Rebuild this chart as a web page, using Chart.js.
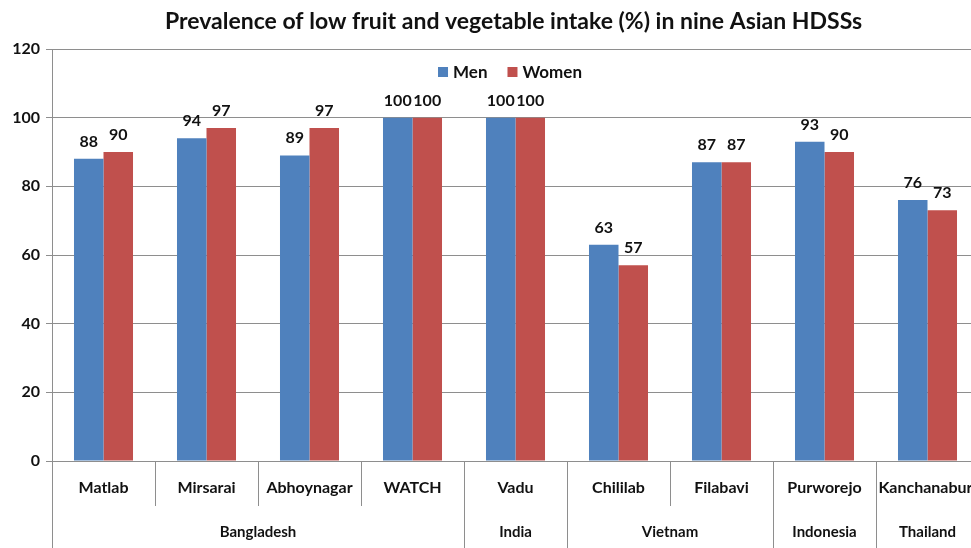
<!DOCTYPE html>
<html>
<head>
<meta charset="utf-8">
<script src="https://cdn.jsdelivr.net/npm/chart.js@4.4.1/dist/chart.umd.min.js"></script>
<style>
  html, body { margin: 0; padding: 0; background: #fff; overflow: hidden; }
  #wrap { width: 971px; height: 548px; overflow: hidden; position: relative; }
  #box { width: 1027px; height: 548px; position: absolute; left: 0; top: 0; }
</style>
</head>
<body>
<div id="wrap"><div id="box"><canvas id="c"></canvas></div></div>
<script>
const categories = ['Matlab', 'Mirsarai', 'Abhoynagar', 'WATCH', 'Vadu', 'Chililab', 'Filabavi', 'Purworejo', 'Kanchanaburi'];
const countries = ['Bangladesh', 'Bangladesh', 'Bangladesh', 'Bangladesh', 'India', 'Vietnam', 'Vietnam', 'Indonesia', 'Thailand'];
const men = [88, 94, 89, 100, 100, 63, 87, 93, 76];
const women = [90, 97, 97, 100, 100, 57, 87, 90, 73];
const yTicks = [0, 20, 40, 60, 80, 100, 120];

const FONT = 'Lato, "Open Sans", sans-serif';
const GRID = '#8e8e8e';

const overlay = {
  id: 'overlay',
  afterDatasetsDraw(chart) {
    const ctx = chart.ctx;
    ctx.save();
    ctx.fillStyle = '#111';
    ctx.font = 'bold 16px ' + FONT;
    ctx.textAlign = 'center';
    ctx.textBaseline = 'alphabetic';
    chart.data.datasets.forEach((ds, di) => {
      const meta = chart.getDatasetMeta(di);
      meta.data.forEach((bar, i) => {
        ctx.fillText(String(ds.data[i]), bar.x, bar.y - 12);
      });
    });
    ctx.restore();
  },
  afterDraw(chart) {
    const ctx = chart.ctx;
    const x = chart.scales.x;
    const area = chart.chartArea;
    const bottomAxis = area.bottom;
    ctx.save();
    ctx.strokeStyle = GRID;
    ctx.lineWidth = 1;
    const n = categories.length;
    const half = (x.getPixelForValue(1) - x.getPixelForValue(0)) / 2;
    const bounds = [];
    for (let i = 0; i <= n; i++) {
      const px = i < n ? x.getPixelForValue(i) - half : x.getPixelForValue(n - 1) + half;
      const isCountry = i === 0 || i === n || countries[i] !== countries[i - 1];
      bounds.push({ px, isCountry });
      const yEnd = isCountry ? 548 : bottomAxis + 45;
      ctx.beginPath();
      ctx.moveTo(Math.round(px) + 0.5, bottomAxis);
      ctx.lineTo(Math.round(px) + 0.5, yEnd);
      ctx.stroke();
    }
    ctx.fillStyle = '#111';
    ctx.font = 'bold 15px ' + FONT;
    ctx.textAlign = 'center';
    ctx.textBaseline = 'middle';
    let start = 0;
    for (let i = 1; i <= n; i++) {
      if (i === n || countries[i] !== countries[i - 1]) {
        const cx = (bounds[start].px + bounds[i].px) / 2;
        ctx.fillText(countries[start], cx, 532);
        start = i;
      }
    }
    ctx.font = 'bold 17px ' + FONT;
    ctx.textAlign = 'left';
    ctx.textBaseline = 'middle';
    const ly = 72;
    const items = chart.data.datasets.map(d => ({ label: d.label, color: d.backgroundColor }));
    const sq = 10, gapSq = 5, gapItem = 20;
    let total = 0;
    items.forEach((it, k) => {
      it.w = ctx.measureText(it.label).width;
      total += sq + gapSq + it.w + (k < items.length - 1 ? gapItem : 0);
    });
    let lx = 510 - total / 2;
    items.forEach(it => {
      ctx.fillStyle = it.color;
      ctx.fillRect(lx, ly - sq / 2, sq, sq);
      lx += sq + gapSq;
      ctx.fillStyle = '#111';
      ctx.fillText(it.label, lx, ly + 1);
      lx += it.w + gapItem;
    });
    ctx.restore();
  }
};

new Chart(document.getElementById('c'), {
  type: 'bar',
  data: {
    labels: categories,
    datasets: [
      { label: 'Men', data: men, backgroundColor: '#4F81BD', categoryPercentage: 0.573, barPercentage: 1.0 },
      { label: 'Women', data: women, backgroundColor: '#C0504D', categoryPercentage: 0.573, barPercentage: 1.0 }
    ]
  },
  options: {
    responsive: true,
    maintainAspectRatio: false,
    animation: false,
    layout: { padding: { left: 0, right: 0, top: 0, bottom: 0 } },
    plugins: {
      legend: { display: false },
      tooltip: { enabled: false },
      title: {
        display: true,
        text: 'Prevalence of low fruit and vegetable intake (%) in nine Asian HDSSs',
        color: '#111',
        font: { family: FONT, size: 23, weight: 'bold' },
        padding: { top: 8, bottom: 13.4 }
      }
    },
    scales: {
      x: {
        grid: { display: false, drawTicks: false },
        border: { display: true, color: GRID },
        ticks: {
          color: '#111',
          font: { family: FONT, size: 16, weight: 'bold' },
          padding: 17,
          maxRotation: 0,
          autoSkip: false
        },
        afterFit(s) { s.height = 87; s.paddingLeft = 0; s.paddingRight = 48; }
      },
      y: {
        min: 0,
        max: 120,
        afterBuildTicks(s) { s.ticks = yTicks.map(v => ({ value: v })); },
        grid: { color: GRID, tickLength: 6 },
        border: { display: true, color: GRID },
        ticks: {
          color: '#111',
          font: { family: FONT, size: 16, weight: 'bold' },
          padding: 6
        },
        afterFit(s) { s.width = 52; }
      }
    }
  },
  plugins: [overlay]
});
</script>
</body>
</html>
